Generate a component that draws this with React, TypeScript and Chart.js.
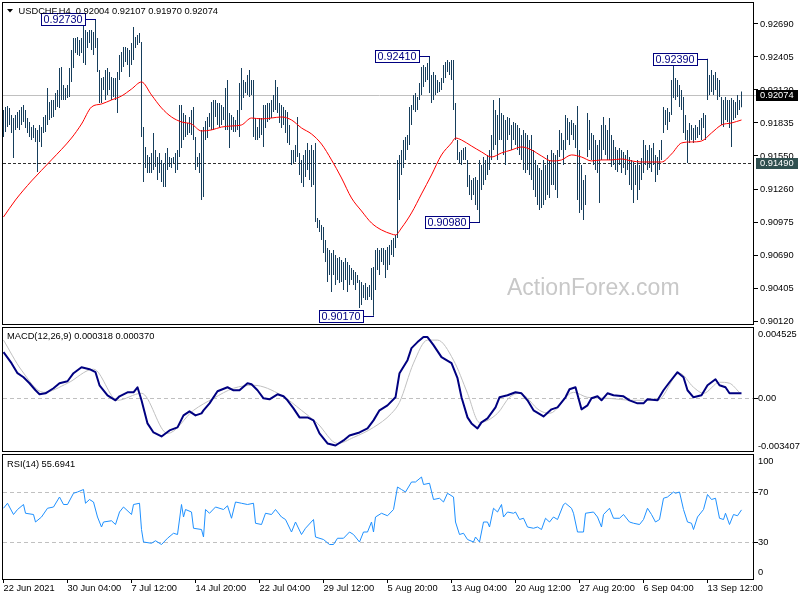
import React, { useEffect, useRef } from "react";
import { Chart, registerables } from "chart.js";

Chart.register(...registerables);

// ---------------- data ----------------
const SYMBOL = "USDCHF,H4";
const LAST_OHLC = [0.92004, 0.92107, 0.9197, 0.92074];
const SUPPORT_LEVEL = 0.9149;
const PRICE_BASE = 0.9; // HIGHS / LOWS are in units of 0.00001 above this base

const HIGHS = [
  1947, 1973, 1982, 1965, 1904, 1878, 1904, 1930, 1947, 1973,
  1990, 1947, 1878, 1844, 1800, 1818, 1792, 1775, 1818, 1800,
  1887, 1904, 2137, 2016, 2034, 2034, 2094, 2120, 2310, 2319,
  2163, 2137, 2163, 2310, 2465, 2569, 2569, 2578, 2552, 2569,
  2707, 2638, 2621, 2638, 2638, 2621, 2730, 2569, 2293, 2224,
  2232, 2293, 2310, 2275, 2232, 2224, 2224, 2275, 2422, 2448,
  2491, 2491, 2483, 2465, 2526, 2664, 2578, 2595, 2612, 2535,
  1800, 1628, 1559, 1541, 1576, 1749, 1602, 1541, 1576, 1516,
  1490, 1576, 1619, 1541, 1533, 1541, 1576, 1602, 1990, 1990,
  1921, 1904, 1835, 1887, 1947, 1973, 1714, 1541, 1576, 1775,
  1800, 1852, 1887, 1921, 2016, 2034, 2034, 2008, 2008, 1990,
  1973, 2137, 2206, 1921, 1904, 1887, 1861, 1947, 2180, 2310,
  2206, 2189, 2250, 2293, 2206, 2206, 1878, 1800, 1878, 1878,
  1990, 1990, 2008, 2008, 2034, 2077, 2206, 2146, 2008, 1990,
  1973, 1947, 1930, 1818, 1602, 1602, 1645, 1887, 1576, 1516,
  1559, 1602, 1662, 1602, 1645, 1602, 1662, 1015, 997, 954,
  937, 824, 756, 738, 712, 738, 695, 669, 678, 652,
  634, 669, 634, 609, 583, 565, 548, 522, 479, 462,
  436, 453, 419, 436, 583, 591, 738, 756, 738, 756,
  756, 738, 764, 781, 824, 842, 868, 1516, 1559, 1602,
  1688, 1714, 1731, 1973, 1990, 2077, 2094, 2060, 2180, 2319,
  2336, 2319, 2353, 2410, 2250, 2275, 2250, 2206, 2189, 2224,
  2336, 2362, 2379, 2362, 2379, 2379, 2008, 1688, 1585, 1602,
  1619, 1628, 1516, 1386, 1343, 1360, 1369, 1343, 1516, 1472,
  1541, 1516, 1559, 1602, 1731, 2034, 1947, 1904, 2051, 1921,
  1904, 1861, 1887, 1878, 1818, 1844, 1835, 1818, 1792, 1731,
  1775, 1749, 1731, 1688, 1731, 1602, 1516, 1472, 1446, 1429,
  1516, 1472, 1559, 1516, 1602, 1576, 1559, 1602, 1775, 1749,
  1688, 1904, 1878, 1844, 1861, 1835, 1818, 1982, 1602, 1472,
  1343, 1386, 1921, 1861, 1749, 1731, 1688, 1645, 1688, 1818,
  1887, 1818, 1775, 1878, 1731, 1688, 1628, 1602, 1619, 1602,
  1585, 1559, 1602, 1541, 1516, 1498, 1472, 1516, 1472, 1533,
  1688, 1645, 1602, 1645, 1619, 1662, 1559, 1541, 1602, 1688,
  1973, 1947, 1965, 1930, 2206, 2353, 2224, 2206, 2163, 2120,
  2060, 1904, 1775, 1835, 1818, 1792, 1818, 1800, 1861, 1878,
  1921, 1904, 2390, 2250, 2293, 2250, 2275, 2224, 2206, 2060,
  2034, 2060, 2034, 2034, 2051, 2034, 2016, 2077, 2034, 2107,
];

const LOWS = [
  1714, 1757, 1800, 1818, 1749, 1533, 1775, 1792, 1775, 1818,
  1844, 1792, 1749, 1714, 1688, 1705, 1671, 1412, 1671, 1628,
  1749, 1757, 1818, 1861, 1878, 1887, 1947, 1973, 1965, 2034,
  2034, 2034, 2051, 2060, 2189, 2310, 2440, 2422, 2414, 2440,
  2353, 2336, 2483, 2526, 2465, 2422, 2483, 2275, 2008, 2008,
  2120, 2034, 2077, 2120, 2034, 2060, 2034, 1921, 2206, 2275,
  2319, 2362, 2336, 2232, 2336, 2379, 2483, 2509, 2526, 1714,
  1325, 1446, 1403, 1403, 1403, 1429, 1455, 1343, 1403, 1325,
  1282, 1282, 1429, 1455, 1446, 1490, 1403, 1429, 1541, 1619,
  1688, 1714, 1731, 1749, 1731, 1688, 1429, 1455, 1403, 1170,
  1196, 1688, 1705, 1800, 1775, 1775, 1887, 1818, 1800, 1818,
  1861, 1775, 1775, 1619, 1775, 1757, 1757, 1775, 1714, 1947,
  2051, 2094, 2077, 2060, 2077, 1714, 1688, 1688, 1705, 1731,
  1628, 1792, 1844, 1861, 1878, 1930, 1947, 1921, 1835, 1792,
  1818, 1749, 1662, 1645, 1472, 1490, 1498, 1541, 1386, 1317,
  1282, 1369, 1429, 1343, 1282, 1300, 980, 928, 894, 824,
  712, 634, 462, 522, 376, 522, 436, 479, 453, 462,
  393, 479, 376, 436, 479, 436, 393, 453, 237, 263,
  324, 306, 306, 332, 306, 170, 393, 565, 522, 634,
  609, 496, 565, 609, 695, 678, 756, 842, 1170, 1386,
  1446, 1516, 1602, 1645, 1818, 1947, 1930, 1947, 2034, 2077,
  2146, 2189, 2206, 2094, 2008, 2034, 2077, 2094, 2103, 2120,
  2180, 2224, 2275, 2250, 2206, 1947, 1688, 1516, 1490, 1472,
  1516, 1516, 1282, 1213, 1170, 1213, 1127, 1084, 980, 1256,
  1300, 1343, 1386, 1429, 1516, 1602, 1645, 1516, 1688, 1688,
  1559, 1472, 1688, 1731, 1602, 1688, 1645, 1602, 1559, 1516,
  1429, 1403, 1429, 1386, 1343, 1256, 1196, 1127, 1084, 1101,
  1127, 1170, 1213, 1187, 1300, 1300, 1256, 1187, 1541, 1602,
  1472, 1602, 1688, 1645, 1731, 1688, 1619, 1170, 1058, 1084,
  997, 1127, 1541, 1602, 1516, 1472, 1429, 1403, 1144, 1516,
  1602, 1559, 1516, 1516, 1455, 1472, 1429, 1412, 1472, 1403,
  1446, 1386, 1429, 1300, 1256, 1144, 1300, 1170, 1256, 1343,
  1403, 1472, 1429, 1446, 1412, 1472, 1325, 1386, 1429, 1516,
  1749, 1818, 1775, 1844, 1904, 2051, 2034, 2060, 1973, 1947,
  1749, 1688, 1490, 1662, 1688, 1662, 1688, 1705, 1731, 1688,
  1792, 1688, 2034, 2077, 2103, 2077, 2120, 2034, 2060, 1818,
  1800, 1861, 1844, 1792, 1628, 1861, 1878, 1904, 1947, 1970,
];

// moving average: [bar, value in 0.00001 above base]
const MA_POINTS = [
  [0, 1023], [6, 1170], [14, 1334], [24, 1516], [34, 1705], [39, 1826], [44, 1973], [49, 1999],
  [54, 2034], [59, 2068], [64, 2128], [69, 2189], [74, 2077], [79, 1965], [84, 1887], [89, 1844],
  [94, 1826], [99, 1766], [104, 1775], [109, 1800], [114, 1809], [119, 1818], [124, 1878], [129, 1870],
  [134, 1878], [139, 1887], [144, 1861], [149, 1792], [154, 1740], [159, 1653], [164, 1516], [169, 1360],
  [174, 1187], [179, 1075], [184, 971], [189, 911], [194, 876], [196, 868], [199, 928], [204, 1058],
  [209, 1222], [214, 1386], [219, 1559], [224, 1662], [226, 1705], [229, 1688], [234, 1636], [239, 1585],
  [244, 1541], [249, 1576], [254, 1602], [259, 1628], [264, 1602], [269, 1550], [274, 1507], [279, 1516],
  [284, 1559], [289, 1541], [294, 1507], [299, 1516], [304, 1516], [309, 1524], [314, 1507], [319, 1498],
  [324, 1498], [329, 1498], [334, 1567], [339, 1662], [344, 1671], [349, 1679], [354, 1749], [359, 1818],
  [364, 1835], [369, 1861],
];

// MACD main line: [bar, value x 1e-6]
const MACD_POINTS = [
  [0, 2930], [4, 2230], [7, 1593], [10, 1338], [13, 955], [16, 510], [18, 255], [21, 319], [25, 637],
  [28, 955], [32, 1083], [35, 1593], [39, 1975], [43, 1847], [46, 1656], [48, 828], [52, 191], [56, -127],
  [58, 127], [62, 382], [65, 382], [67, 701], [69, -127], [72, -1593], [75, -2166], [79, -2421], [83, -2038],
  [87, -1847], [90, -1083], [93, -828], [96, -1083], [99, -956], [100, -764], [103, -319], [107, 446],
  [112, 701], [115, 510], [118, 510], [122, 956], [124, 892], [127, 510], [130, 0], [133, -64], [137, 255],
  [140, 127], [142, -127], [145, -637], [148, -1210], [152, -1210], [155, -1401], [158, -2230], [162, -2867],
  [166, -2994], [170, -2675], [173, -2357], [178, -2166], [182, -1911], [185, -1401], [188, -764], [192, -446],
  [196, 64], [198, 1593], [202, 2421], [204, 3185], [207, 3567], [210, 3886], [212, 3886], [215, 3376],
  [219, 2612], [224, 2230], [227, 1274], [229, 64], [232, -1210], [234, -1593], [237, -1911], [239, -1529],
  [242, -1274], [246, -573], [248, 64], [252, 191], [256, 382], [259, 319], [262, -127], [265, -764],
  [270, -1147], [274, -701], [277, -573], [281, 64], [283, 573], [286, 701], [289, -701], [292, -446],
  [294, 0], [297, 127], [299, -127], [302, 319], [305, 191], [310, 127], [313, -127], [317, -319],
  [320, -319], [322, -64], [327, -127], [330, 510], [333, 1019], [337, 1656], [340, 1338], [342, 510],
  [345, 64], [349, 191], [352, 828], [356, 1210], [358, 828], [361, 701], [363, 319], [369, 318],
];

// MACD signal line: [bar, value x 1e-6]
const SIGNAL_POINTS = [
  [0, 3695], [9, 1784], [20, 382], [32, 956], [45, 1847], [57, -127], [69, 318], [82, -2230], [95, -764],
  [105, 0], [115, 637], [125, 828], [139, 191], [149, -764], [157, -1593], [167, -2867], [175, -2484],
  [185, -1847], [194, -956], [198, -255], [205, 2230], [212, 3695], [217, 3695], [225, 2421], [232, 319],
  [238, -1529], [247, -956], [253, 64], [258, 319], [268, -764], [273, -956], [285, 382], [292, 64],
  [302, 0], [315, -127], [327, -127], [338, 1593], [345, 701], [350, 319], [358, 1019], [363, 956], [368, 370],
];
const MACD_LAST = [0.000318, 0.00037];

// RSI(14): [bar, value]
const RSI_POINTS = [
  [0, 57], [2, 61], [5, 52], [7, 56], [10, 60], [11, 53], [15, 52], [16, 46], [19, 50], [22, 57], [25, 58],
  [28, 66], [30, 60], [32, 60], [35, 69], [37, 70], [40, 72], [41, 61], [43, 64], [45, 62], [47, 50], [49, 42],
  [50, 46], [54, 47], [56, 44], [58, 54], [60, 58], [64, 52], [65, 60], [68, 61], [69, 40], [70, 30], [74, 29],
  [76, 31], [79, 28], [82, 33], [85, 37], [87, 36], [89, 60], [90, 50], [91, 56], [94, 54], [95, 41], [99, 40],
  [100, 34], [101, 56], [103, 53], [106, 58], [110, 56], [112, 59], [114, 49], [116, 62], [119, 61], [122, 60],
  [125, 61], [126, 45], [129, 44], [131, 53], [134, 52], [136, 56], [139, 50], [141, 48], [144, 38], [146, 46],
  [149, 36], [151, 41], [155, 48], [156, 34], [160, 32], [163, 28], [165, 28], [167, 33], [170, 33], [173, 38],
  [175, 36], [178, 30], [180, 38], [182, 38], [184, 46], [185, 38], [186, 50], [189, 53], [192, 51], [195, 56],
  [197, 74], [199, 72], [201, 70], [204, 78], [206, 78], [209, 82], [210, 76], [213, 77], [215, 64], [218, 65],
  [220, 62], [222, 69], [225, 66], [226, 46], [228, 36], [230, 37], [232, 32], [235, 30], [236, 34], [238, 30],
  [240, 46], [242, 46], [243, 42], [245, 57], [247, 54], [249, 60], [250, 50], [252, 54], [255, 53], [256, 54],
  [258, 48], [260, 49], [262, 42], [265, 41], [267, 42], [269, 40], [271, 49], [273, 46], [275, 50], [277, 48],
  [280, 60], [281, 61], [284, 57], [285, 53], [287, 38], [290, 38], [291, 53], [295, 54], [297, 50], [299, 42],
  [300, 52], [303, 57], [305, 49], [308, 49], [310, 52], [313, 46], [315, 45], [318, 44], [320, 48], [322, 57],
  [324, 52], [326, 46], [328, 48], [330, 65], [332, 66], [335, 70], [336, 69], [338, 70], [340, 56], [342, 46],
  [344, 45], [345, 40], [347, 50], [350, 56], [352, 68], [354, 64], [356, 65], [358, 49], [360, 48], [361, 53],
  [363, 44], [365, 52], [367, 51], [369, 55.69],
];
const RSI_LAST = 55.6941;
const RSI_LEVELS = [70, 30];

const PRICE_TICKS = [0.9269, 0.92405, 0.9212, 0.91835, 0.9155, 0.9126, 0.90975, 0.9069, 0.90405, 0.9012];
const PRICE_RANGE = [0.9009, 0.9288];
const MACD_RANGE = [-0.003407, 0.004525];
const RSI_RANGE = [-0.4, 100.4];

const DATE_BARS = [0, 32, 64, 96, 128, 160, 192, 224, 256, 288, 320, 352];
const DATE_LABELS = [
  "22 Jun 2021", "30 Jun 04:00", "7 Jul 12:00", "14 Jul 20:00", "22 Jul 04:00", "29 Jul 12:00",
  "5 Aug 20:00", "13 Aug 04:00", "20 Aug 12:00", "27 Aug 20:00", "6 Sep 04:00", "13 Sep 12:00",
];

const PEAK_BARS = [46, 213, 352, 238, 185];
const PEAK_PRICES = [0.9273, 0.9241, 0.9239, 0.9098, 0.9017];

// ---------------- styling ----------------
const FONT = '"Liberation Sans", Arial, Helvetica, sans-serif';
const FS = 9.3;
const BAR_COLOR = "#163e5c";
const X_MIN = -0.75;
const X_MAX = 375.25;
const AXIS_W = 46;

const price = (v: number) => PRICE_BASE + v / 100000;

function xAxis(show: boolean): any {
  const ax: any = {
    type: "linear",
    min: X_MIN,
    max: X_MAX,
    offset: false,
    display: show,
    grid: { display: show, offset: false, drawOnChartArea: false, drawTicks: true, tickLength: 3, tickColor: "#000" },
    border: { display: false },
    afterFit: (s: any) => {
      s.paddingLeft = 0;
      s.paddingRight = 0;
      if (show) s.height = 20;
    },
    ticks: {
      display: show,
      autoSkip: false,
      maxRotation: 0,
      minRotation: 0,
      align: "start",
      padding: 0,
      color: "#000",
      font: { family: FONT, size: FS },
      callback: (v: any) => {
        const k = DATE_BARS.indexOf(Number(v));
        return k >= 0 ? DATE_LABELS[k] : "";
      },
    },
  };
  if (show) {
    ax.afterBuildTicks = (s: any) => {
      s.ticks = DATE_BARS.map((b) => ({ value: b }));
    };
  }
  return ax;
}

function yAxis(range: number[], ticks: number[], fmt: (v: number) => string, pad: number): any {
  return {
    type: "linear",
    position: "right",
    min: range[0],
    max: range[1],
    beginAtZero: false,
    afterBuildTicks: (s: any) => {
      s.ticks = ticks.map((v) => ({ value: v }));
    },
    afterFit: (s: any) => {
      s.width = AXIS_W;
      s.paddingTop = 0;
      s.paddingBottom = 0;
    },
    border: { display: false },
    grid: { drawOnChartArea: false, drawTicks: true, tickLength: 4, tickColor: "#000", lineWidth: 1 },
    ticks: {
      autoSkip: false,
      padding: pad,
      crossAlign: "near",
      color: "#000",
      font: { family: FONT, size: FS },
      callback: (v: any) => fmt(Number(v)),
    },
  };
}

const framePlugin = {
  id: "frame",
  afterDraw(chart: any) {
    const { ctx, chartArea: a } = chart;
    ctx.save();
    ctx.strokeStyle = "#000";
    ctx.lineWidth = 1;
    ctx.setLineDash([]);
    ctx.strokeRect(a.left + 0.5, a.top + 0.5, a.right - a.left - 1, a.bottom - a.top - 1);
    ctx.restore();
  },
};

function drawText(ctx: any, s: string, x: number, y: number, color = "#000", size = FS) {
  ctx.font = `${size}px ${FONT}`;
  ctx.fillStyle = color;
  ctx.textAlign = "left";
  ctx.textBaseline = "middle";
  ctx.fillText(s, x, y);
}

const pricePlugin = {
  id: "pricePanel",
  beforeDatasetsDraw(chart: any) {
    const { ctx, chartArea: a, scales } = chart;
    const y = scales.y;
    ctx.save();
    ctx.font = `23px ${FONT}`;
    ctx.fillStyle = "#c8c8c8";
    ctx.textAlign = "left";
    ctx.textBaseline = "alphabetic";
    ctx.fillText("ActionForex.com", 507, 295);

    const yc = Math.round(y.getPixelForValue(LAST_OHLC[3])) + 0.5;
    ctx.strokeStyle = "#c0c0c0";
    ctx.lineWidth = 1;
    ctx.beginPath();
    ctx.moveTo(a.left, yc);
    ctx.lineTo(a.right + 3, yc);
    ctx.stroke();

    const ys = Math.round(y.getPixelForValue(SUPPORT_LEVEL)) + 0.5;
    ctx.strokeStyle = "#303030";
    ctx.setLineDash([3, 2]);
    ctx.beginPath();
    ctx.moveTo(a.left + 1, ys);
    ctx.lineTo(a.right - 1, ys);
    ctx.stroke();
    ctx.restore();
  },
  afterDraw(chart: any) {
    const { ctx, scales } = chart;
    const x = scales.x;
    const y = scales.y;
    ctx.save();
    // peak / trough labels
    ctx.font = `10.8px ${FONT}`;
    PEAK_BARS.forEach((b, k) => {
      const p = PEAK_PRICES[k];
      const barCol = Math.floor(x.getPixelForValue(b));
      const py = Math.round(y.getPixelForValue(p));
      const t = p.toFixed(5);
      ctx.font = `10.8px ${FONT}`;
      const w = Math.ceil(ctx.measureText(t).width) + 4;
      const right = barCol - 10;
      const left = right - w;
      ctx.fillStyle = "#fff";
      ctx.fillRect(left, py - 6, w, 13);
      ctx.strokeStyle = "#000080";
      ctx.lineWidth = 1;
      ctx.strokeRect(left + 0.5, py - 5.5, w, 12);
      ctx.beginPath();
      ctx.moveTo(right + 0.5, py + 0.5);
      ctx.lineTo(barCol + 1, py + 0.5);
      ctx.stroke();
      drawText(ctx, t, left + 2.5, py + 1, "#000080", 10.8);
    });
    // right axis boxes
    const boxes: [number, string][] = [
      [LAST_OHLC[3], "#000000"],
      [SUPPORT_LEVEL, "#2f4f4f"],
    ];
    boxes.forEach(([v, c]) => {
      const py = Math.round(y.getPixelForValue(v));
      ctx.fillStyle = c;
      ctx.fillRect(756, py - 5, 42, 11);
      drawText(ctx, v.toFixed(5), 760, py + 0.5, "#fff");
    });
    // header
    ctx.fillStyle = "#000";
    ctx.beginPath();
    ctx.moveTo(7, 9);
    ctx.lineTo(13, 9);
    ctx.lineTo(10, 12.5);
    ctx.closePath();
    ctx.fill();
    drawText(ctx, `${SYMBOL}  ${LAST_OHLC.map((v) => v.toFixed(5)).join(" ")}`, 18.5, 11);
    ctx.restore();
  },
};

const macdPlugin = {
  id: "macdPanel",
  beforeDatasetsDraw(chart: any) {
    const { ctx, chartArea: a, scales } = chart;
    const y0 = Math.round(scales.y.getPixelForValue(0)) + 0.5;
    ctx.save();
    ctx.strokeStyle = "#c0c0c0";
    ctx.lineWidth = 1;
    ctx.setLineDash([4, 3]);
    ctx.beginPath();
    ctx.moveTo(a.left + 1, y0);
    ctx.lineTo(a.right - 1, y0);
    ctx.stroke();
    ctx.restore();
  },
  afterDraw(chart: any) {
    const { ctx, scales } = chart;
    const y = scales.y;
    ctx.save();
    drawText(ctx, `MACD(12,26,9) ${MACD_LAST[0].toFixed(6)} ${MACD_LAST[1].toFixed(6)}`, 7, 11);
    drawText(ctx, MACD_RANGE[1].toFixed(6), 758, y.getPixelForValue(MACD_RANGE[1]) + 7);
    drawText(ctx, MACD_RANGE[0].toFixed(6), 758, y.getPixelForValue(MACD_RANGE[0]) - 6);
    ctx.restore();
  },
};

const rsiPlugin = {
  id: "rsiPanel",
  beforeDatasetsDraw(chart: any) {
    const { ctx, chartArea: a, scales } = chart;
    ctx.save();
    ctx.strokeStyle = "#c0c0c0";
    ctx.lineWidth = 1;
    ctx.setLineDash([4, 3]);
    RSI_LEVELS.forEach((lv) => {
      const py = Math.round(scales.y.getPixelForValue(lv)) + 0.5;
      ctx.beginPath();
      ctx.moveTo(a.left + 1, py);
      ctx.lineTo(a.right - 1, py);
      ctx.stroke();
    });
    ctx.restore();
  },
  afterDraw(chart: any) {
    const { ctx, scales } = chart;
    const y = scales.y;
    ctx.save();
    drawText(ctx, `RSI(14) ${RSI_LAST.toFixed(4)}`, 7, 12);
    drawText(ctx, "100", 758, y.getPixelForValue(100) + 7);
    drawText(ctx, "0", 758, y.getPixelForValue(0) - 7);
    ctx.restore();
  },
};

const commonOpts = {
  responsive: false,
  animation: false,
  events: [],
  plugins: { legend: { display: false }, tooltip: { enabled: false } },
};

export default function App() {
  const c1 = useRef<HTMLCanvasElement>(null);
  const c2 = useRef<HTMLCanvasElement>(null);
  const c3 = useRef<HTMLCanvasElement>(null);

  useEffect(() => {
    document.body.style.margin = "0";
    const priceChart = new Chart(c1.current as any, {
      type: "bar",
      data: {
        datasets: [
          {
            type: "line",
            data: MA_POINTS.map(([b, v]) => ({ x: b, y: price(v) })),
            borderColor: "#ff0000",
            borderWidth: 1,
            pointRadius: 0,
            cubicInterpolationMode: "monotone",
            order: 0,
          } as any,
          {
            type: "bar",
            data: HIGHS.map((h, i) => ({ x: i, y: [price(LOWS[i]), price(h)] })),
            backgroundColor: BAR_COLOR,
            borderWidth: 0,
            barThickness: 1,
            inflateAmount: 0,
            order: 1,
          } as any,
        ],
      },
      options: {
        ...commonOpts,
        layout: { padding: { left: 2, top: 2, right: 0, bottom: 0 } },
        scales: {
          x: xAxis(false),
          y: yAxis(PRICE_RANGE, PRICE_TICKS, (v) => v.toFixed(5), 2),
        },
      } as any,
      plugins: [pricePlugin, framePlugin],
    });

    const macdChart = new Chart(c2.current as any, {
      type: "line",
      data: {
        datasets: [
          {
            data: MACD_POINTS.map(([b, v]) => ({ x: b, y: v / 1e6 })),
            borderColor: "#000080",
            borderWidth: 2,
            pointRadius: 0,
            tension: 0,
            borderJoinStyle: "round",
            order: 0,
          } as any,
          {
            data: SIGNAL_POINTS.map(([b, v]) => ({ x: b, y: v / 1e6 })),
            borderColor: "#c0c0c0",
            borderWidth: 1,
            pointRadius: 0,
            cubicInterpolationMode: "monotone",
            order: 1,
          } as any,
        ],
      },
      options: {
        ...commonOpts,
        layout: { padding: { left: 2, top: 2, right: 0, bottom: 0 } },
        scales: {
          x: xAxis(false),
          y: yAxis(MACD_RANGE, [0], () => "0.00", 0),
        },
      } as any,
      plugins: [macdPlugin, framePlugin],
    });

    const rsiChart = new Chart(c3.current as any, {
      type: "line",
      data: {
        datasets: [
          {
            data: RSI_POINTS.map(([b, v]) => ({ x: b, y: v })),
            borderColor: "#1e90ff",
            borderWidth: 1,
            pointRadius: 0,
            tension: 0,
          } as any,
        ],
      },
      options: {
        ...commonOpts,
        layout: { padding: { left: 2, top: 2, right: 0, bottom: 0 } },
        scales: {
          x: xAxis(true),
          y: yAxis(RSI_RANGE, RSI_LEVELS, (v) => String(v), 0),
        },
      } as any,
      plugins: [rsiPlugin, framePlugin],
    });

    return () => {
      priceChart.destroy();
      macdChart.destroy();
      rsiChart.destroy();
    };
  }, []);

  return (
    <div style={{ position: "relative", width: 800, height: 600, background: "#fff", overflow: "hidden" }}>
      <canvas ref={c1} width={800} height={325} style={{ position: "absolute", left: 0, top: 0 }} />
      <canvas ref={c2} width={800} height={127} style={{ position: "absolute", left: 0, top: 325 }} />
      <canvas ref={c3} width={800} height={148} style={{ position: "absolute", left: 0, top: 452 }} />
    </div>
  );
}
